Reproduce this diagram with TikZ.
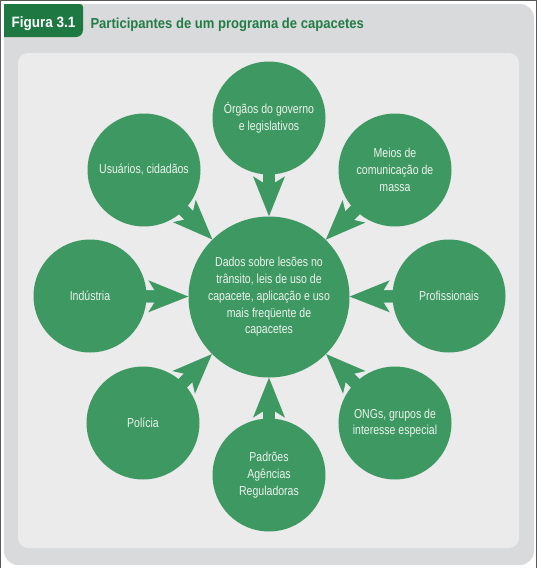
\documentclass[tikz,border=0pt]{standalone}
\usepackage{fontspec}
\usepackage{tikz}
\usetikzlibrary{arrows.meta}
\newfontfamily\condfont[FakeStretch=0.81]{Liberation Sans}
\newfontfamily\headfont[FakeStretch=0.9]{Liberation Sans}
\definecolor{tabgreen}{RGB}{30,120,66}
\definecolor{titlegreen}{RGB}{34,124,70}
\definecolor{blobgreen}{RGB}{62,152,97}
\definecolor{paneldark}{RGB}{217,218,219}
\definecolor{panellight}{RGB}{235,235,235}
\definecolor{blobtext}{RGB}{236,243,238}
\tikzset{
  blob/.style={circle, fill=blobgreen, inner sep=0pt, minimum size=113pt,
    text=blobtext, align=center, font=\condfont\fontsize{13}{16.7}\selectfont},
  hub/.style={blob, minimum size=161pt},
  shaft/.style={blobgreen, line width=12pt, shorten >=24pt},
  feed/.style={blobgreen, line width=12pt,
    -{Stealth[length=40pt,width=32pt,inset=10pt,line width=0pt]}}
}

\begin{document}
\begin{tikzpicture}[x=1pt,y=-1pt]
			%%%%% FRAME %%%%%
			\useasboundingbox (0,0) rectangle (537,568);
			\fill[white] (0,0) rectangle (537,568);
			\draw[line width=1pt, color=black!65] (0.5,567.5) -- (0.5,0.5) -- (536.5,0.5) -- (536.5,567.5);
			\fill[paneldark, rounded corners=14pt] (4,4) rectangle (534,565);
			\fill[panellight, rounded corners=10pt] (18,53) rectangle (519,548);
			\fill[tabgreen] (4,4) [rounded corners=3pt] -- (83,4) [rounded corners=7pt] -- (83,37) [sharp corners] -- (4,37) -- cycle;
			\node[text=white, font=\headfont\bfseries\fontsize{15}{18}\selectfont] (fig) at (43.5,24) {Figura 3.1};
			\node[anchor=west, text=titlegreen, font=\headfont\bfseries\fontsize{14.5}{17}\selectfont] (title) at (87,24.5) {Participantes de um programa de capacetes};
			
			%%%%% HUB %%%%%
			\node[hub] (data) at (269,297) {Dados sobre lesões no\\trânsito, leis de uso de\\capacete, aplicação e uso\\mais freqüente de\\capacetes};
			
			\coordinate (gov-c) at (269,118);
			\coordinate (users-c) at (144,170);
			\coordinate (media-c) at (395,170);
			\coordinate (industry-c) at (90,296);
			\coordinate (pros-c) at (449,296);
			\coordinate (police-c) at (143,423);
			\coordinate (ngo-c) at (395,423);
			\coordinate (norms-c) at (269,475);
			
			%%%%% ARROWS %%%%%
			\foreach \src in {gov,users,media,industry,pros,police,ngo,norms}{
				\draw[shaft] (\src-c) -- (data);
				\draw[feed] (\src-c) -- (data);
			}
			
			%%%%% PARTICIPANTS %%%%%
			\node[blob] (gov) at (gov-c) {Órgãos do governo\\e legislativos};
			\node[blob] (users) at (users-c) {Usuários, cidadãos};
			\node[blob] (media) at (media-c) {Meios de\\comunicação de\\massa};
			\node[blob] (industry) at (industry-c) {Indústria};
			\node[blob] (pros) at (pros-c) {Profissionais};
			\node[blob] (police) at (police-c) {Polícia};
			\node[blob] (ngo) at (ngo-c) {ONGs, grupos de\\interesse especial};
			\node[blob] (norms) at (norms-c) {Padrões\\Agências\\Reguladoras};
			
		\end{tikzpicture}
\end{document}
